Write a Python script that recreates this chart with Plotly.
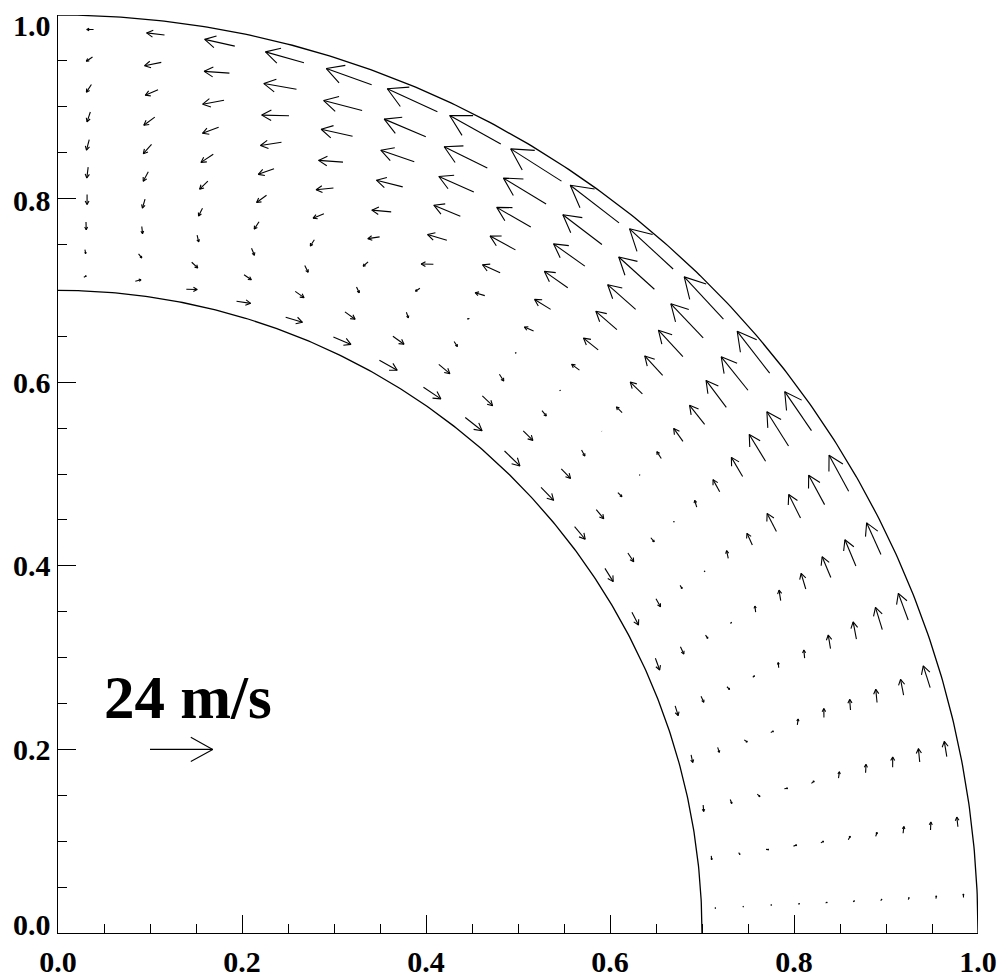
import numpy as np
import plotly.graph_objects as go

# ---------------- data ----------------
theta_deg = [2.25, 6.75, 11.25, 15.75, 20.25, 24.75, 29.25, 33.75, 38.25, 42.75,
             47.25, 51.75, 56.25, 60.75, 65.25, 69.75, 74.25, 78.75, 83.25, 87.75]
radius = [0.715, 0.745, 0.775, 0.805, 0.835, 0.865, 0.895, 0.925, 0.955, 0.985]

# latitudinal velocity u_theta (m/s, positive = towards the pole), one list per radius
ut_0715 = [-0.5, -1.5, -2.5, -3.0, -3.9, -4.8, -5.5, -6.0, -6.3, -6.9, -8.2, -8.2, -8.0, -7.8, -7.3, -6.7, -5.4, -4.1, -2.1, -0.9]
ut_0745 = [-0.3, -0.8, -1.6, -2.0, -2.5, -3.1, -3.5, -4.0, -4.5, -5.1, -5.2, -5.4, -5.5, -5.2, -4.7, -4.0, -3.2, -2.7, -1.4, -0.35]
ut_0775 = [0.0, -0.2, -1.1, -1.1, -1.3, -1.5, -1.4, -2.0, -2.2, -2.5, -2.6, -2.9, -2.1, -1.7, -1.9, -2.1, -1.8, -1.1, -0.6, -0.2]
ut_0805 = [0.1, 0.3, 0.0, 0.2, 0.3, 0.3, 0.2, 0.3, 0.2, 0.1, 0.2, 0.3, 0.5, 0.9, 1.0, 0.6, 1.0, 0.9, 0.6, -0.15]
ut_0835 = [0.2, 0.5, 0.7, 2.1, 1.9, 2.2, 2.9, 2.6, 3.1, 3.1, 3.7, 3.7, 3.7, 4.1, 3.8, 3.3, 2.9, 2.5, 1.5, 0.35]
ut_0865 = [0.4, 1.2, 2.3, 3.3, 3.0, 3.9, 4.9, 5.3, 6.1, 6.5, 7.2, 7.2, 7.3, 7.5, 7.0, 6.0, 5.2, 4.0, 2.7, 0.9]
ut_0895 = [0.6, 1.5, 3.1, 4.0, 5.2, 6.2, 7.8, 8.5, 9.3, 10.1, 10.7, 10.9, 11.0, 10.9, 10.2, 9.0, 7.4, 5.6, 3.8, 1.1]
ut_0925 = [0.8, 2.5, 3.9, 5.0, 6.6, 8.6, 10.1, 12.0, 12.9, 13.8, 14.3, 14.7, 15.0, 14.6, 13.5, 12.2, 10.1, 7.7, 4.6, 1.8]
ut_0955 = [1.0, 3.0, 5.1, 6.1, 8.9, 10.9, 12.8, 15.5, 16.4, 18.0, 18.4, 18.8, 19.1, 18.4, 17.3, 15.1, 12.6, 9.6, 6.2, 2.3]
ut_0985 = [1.3, 3.7, 5.9, 8.7, 10.9, 13.3, 15.7, 18.1, 20.3, 22.1, 22.7, 23.6, 23.0, 22.4, 21.1, 18.4, 15.3, 11.8, 6.9, 2.6]

# radial velocity u_r (m/s, positive = outwards), one list per radius
ur_0715 = [0.0, 0.0, -0.3, -0.2, -0.2, -0.4, -0.2, -0.2, 0.2, 0.2, -0.2, 0.0, 0.0, 0.0, 0.2, 0.4, 0.7, 0.7, 0.8, 0.5]
ur_0745 = [0.2, 0.4, 0.3, 0.1, 0.2, 0.0, 0.0, 0.0, 0.1, 0.1, -0.2, -0.5, -0.6, -0.6, -0.9, -1.1, -1.1, -1.7, -1.4, -1.5]
ur_0775 = [0.5, 1.0, 0.8, 0.9, 0.6, 0.3, 0.1, 0.2, 0.2, -0.6, -0.4, -1.0, -0.9, -1.5, -1.6, -2.0, -2.3, -2.4, -2.7, -2.9]
ur_0805 = [0.6, 1.3, 1.3, 1.1, 0.8, 0.5, 0.4, 0.3, 0.2, 0.0, -0.3, -0.4, -0.5, -1.8, -2.3, -2.8, -3.2, -3.2, -3.5, -3.8]
ur_0835 = [0.6, 1.1, 1.2, 0.9, 0.5, 0.7, 0.9, 0.8, 0.3, -0.1, -0.4, -1.0, -1.1, -2.2, -2.5, -3.0, -3.7, -3.6, -3.8, -4.2]
ur_0865 = [0.5, 0.9, 0.8, 0.9, 0.8, 1.1, 0.4, 0.5, 0.3, -0.3, -0.5, -0.8, -1.2, -1.7, -2.5, -2.9, -3.7, -4.0, -3.9, -4.1]
ur_0895 = [0.4, 0.7, 0.8, 0.8, 1.0, 0.9, 0.3, 0.5, 0.0, 0.0, -0.3, -0.6, -1.0, -1.3, -1.9, -2.6, -3.4, -3.5, -3.6, -3.8]
ur_0925 = [0.3, 0.6, 0.8, 0.9, 1.1, 0.3, 0.5, 0.5, 0.3, 0.0, -0.3, -0.7, -1.0, -1.3, -1.3, -1.6, -2.6, -3.1, -2.7, -3.0]
ur_0955 = [0.2, 0.5, 0.5, 0.5, 0.5, 0.4, 0.2, 0.4, -0.1, -0.2, -0.2, -0.3, -0.8, -0.9, -0.5, -1.5, -1.3, -1.2, -2.0, -1.7]
ur_0985 = [0.0, 0.0, 0.2, -0.3, 0.0, 0.1, 0.2, -0.2, 0.2, 0.0, 0.0, -0.2, -0.5, 0.0, 0.0, -0.2, 0.0, 0.3, 0.0, -0.1]

inner_radius = 0.7
outer_radius = 1.0
ref_speed = 24.0          # m/s, reference arrow
ref_label = "24 m/s"
tick_vals = [0.0, 0.2, 0.4, 0.6, 0.8, 1.0]
tick_text = ["0.0", "0.2", "0.4", "0.6", "0.8", "1.0"]

# ---------------- styling / layout constants ----------------
SCALE = 0.0682 / 24.0      # axis units per m/s
HEAD_FRAC = 0.40
HEAD_ANG = np.deg2rad(29.0)
REF_ORIGIN = (0.1, 0.2)
FONT = "Liberation Serif, Times New Roman, serif"
TICKFONT = dict(family=FONT, size=30, color="black", weight="bold")
# vertical nudges (px) of the y tick labels so the end labels stay inside the frame
Y_LABEL_SHIFT = [9, 0, 0, 0, -2, -10]

ut_rows = [ut_0715, ut_0745, ut_0775, ut_0805, ut_0835, ut_0865, ut_0895, ut_0925, ut_0955, ut_0985]
ur_rows = [ur_0715, ur_0745, ur_0775, ur_0805, ur_0835, ur_0865, ur_0895, ur_0925, ur_0955, ur_0985]


def arrow_path(x0, y0, vx, vy, xs, ys):
    dx, dy = vx * SCALE, vy * SCALE
    L = np.hypot(dx, dy)
    x1, y1 = x0 + dx, y0 + dy
    xs += [x0, x1, None]
    ys += [y0, y1, None]
    if L > 0:
        bx, by = -dx / L, -dy / L
        h = HEAD_FRAC * L
        pts = []
        for s in (1, -1):
            c, sn = np.cos(s * HEAD_ANG), np.sin(s * HEAD_ANG)
            pts.append((x1 + h * (c * bx - sn * by), y1 + h * (sn * bx + c * by)))
        xs += [pts[0][0], x1, pts[1][0], None]
        ys += [pts[0][1], y1, pts[1][1], None]


xs, ys = [], []
for i, r in enumerate(radius):
    for j, th in enumerate(theta_deg):
        t = np.deg2rad(th)
        ur, ut = ur_rows[i][j], ut_rows[i][j]
        vx = ur * np.cos(t) - ut * np.sin(t)
        vy = ur * np.sin(t) + ut * np.cos(t)
        arrow_path(r * np.cos(t), r * np.sin(t), vx, vy, xs, ys)

# reference arrow
arrow_path(REF_ORIGIN[0], REF_ORIGIN[1], ref_speed, 0.0, xs, ys)

fig = go.Figure()
arc_t = np.linspace(0, np.pi / 2, 300)
for rb in (inner_radius, outer_radius):
    fig.add_trace(go.Scatter(x=rb * np.cos(arc_t), y=rb * np.sin(arc_t), mode="lines",
                             line=dict(color="black", width=1.3), hoverinfo="skip",
                             cliponaxis=False))
fig.add_trace(go.Scatter(x=xs, y=ys, mode="lines", line=dict(color="black", width=1.1),
                         hoverinfo="skip", cliponaxis=False))

fig.add_annotation(x=0.141, y=0.257, xref="x", yref="y", text=ref_label, showarrow=False,
                   xanchor="center", yanchor="middle",
                   font=dict(family=FONT, size=61, color="black", weight="bold"))

# y tick labels as annotations (end labels pulled inside like the original)
for v, txt, sh in zip(tick_vals, tick_text, Y_LABEL_SHIFT):
    fig.add_annotation(x=0, y=v, xref="paper", yref="y", text=txt, showarrow=False,
                       xanchor="right", yanchor="middle", xshift=-5, yshift=sh,
                       font=TICKFONT)

axis_common = dict(range=[0, 1], showgrid=False, zeroline=False, showline=True,
                   linecolor="black", linewidth=1.3, mirror=False, automargin=False,
                   ticks="inside", ticklen=18, tickwidth=1, tickcolor="black",
                   tickvals=tick_vals, ticktext=tick_text, tickfont=TICKFONT,
                   minor=dict(dtick=0.05, tick0=0, ticks="inside", ticklen=9,
                              tickwidth=1, tickcolor="black", showgrid=False))

fig.update_layout(
    width=1003, height=978,
    margin=dict(l=58, r=25, t=15, b=45, pad=0),
    paper_bgcolor="white", plot_bgcolor="white",
    showlegend=False,
    xaxis=dict(**axis_common, ticklabelstandoff=2),
    yaxis=dict(**axis_common, showticklabels=False),
)

fig.write_html("out.html")
